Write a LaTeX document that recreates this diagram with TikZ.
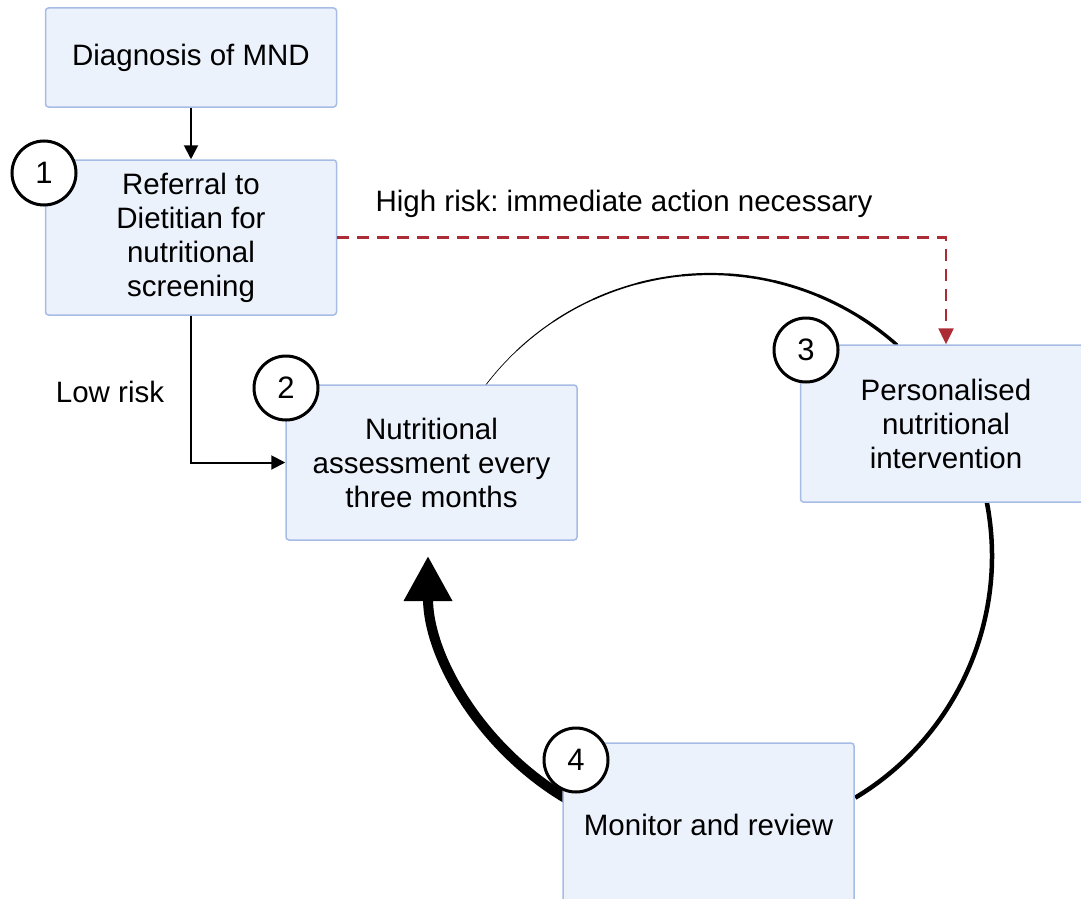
\documentclass[tikz,border=0pt]{standalone}
\usepackage{fontspec}
\setmainfont{Liberation Sans}
\frenchspacing
\usetikzlibrary{arrows.meta}
\definecolor{boxfill}{RGB}{236,242,252}
\definecolor{boxline}{RGB}{166,188,228}
\definecolor{riskred}{RGB}{172,44,54}
\tikzset{
	stepbox/.style={draw=boxline, fill=boxfill, line width=1.5pt, rounded corners=3pt, minimum width=291pt, minimum height=155pt, align=center, font=\fontsize{29.5}{34}\selectfont},
	numcirc/.style={circle, draw=black, fill=white, line width=3pt, minimum size=64pt, inner sep=0pt, font=\fontsize{31}{34}\selectfont},
	arr/.style={line width=2pt, -{Triangle[length=14pt,width=14pt]}},
	riskarr/.style={draw=riskred, line width=2.5pt, dash pattern=on 12pt off 8pt, -{Triangle[length=16pt,width=15pt]}},
	lbl/.style={font=\fontsize{29.5}{34}\selectfont}
}
\begin{document}
\begin{tikzpicture}[x=1pt, y=1pt]
	\useasboundingbox (0,0) rectangle (1081,-899);
	\clip (0,0) rectangle (1081,-899);
	% Kreislauf
	\coordinate (loop) at (710,-556);
	\foreach \i in {0,...,9}
	{
		\pgfmathsetmacro{\a}{142.6-\i*9.41}
		\pgfmathsetmacro{\w}{0.7+\i*0.3}
		\draw[line width=\w pt, line cap=round] (loop) ++(\a:282) arc[start angle=\a, delta angle=-9.41, radius=282];
	}
	\draw[line width=4.5pt] (loop) ++(11:282) arc[start angle=11, end angle=-59, radius=282];
	\draw[line width=10pt, -{Triangle[length=45pt,width=46pt]}] (loop) ++(240:282) arc[start angle=240, end angle=180, radius=282];

	% Kaesten
	\node[stepbox, minimum height=99pt] (diag) at (191,-57.5) {Diagnosis of MND};
	\node[stepbox] (refer) at (191,-237.5) {Referral to\\Dietitian for\\nutritional\\screening};
	\node[stepbox] (assess) at (431.5,-462.5) {Nutritional\\assessment every\\three months};
	\node[stepbox, minimum height=157pt] (person) at (946,-423.5) {Personalised\\nutritional\\intervention};
	\node[stepbox, minimum height=170pt] (monitor) at (708.5,-828) {\raisebox{7pt}{Monitor and review}};

	% Nummern
	\node[numcirc] (one) at (44,-173) {1};
	\node[numcirc] (two) at (286,-388) {2};
	\node[numcirc] (three) at (806,-350) {3};
	\node[numcirc] (four) at (576,-760) {4};

	% Pfeile
	\draw[arr] (diag) -- (refer);
	\draw[arr] (refer.south) |- (assess.west);
	\draw[riskarr] (refer.east) -| (person.north);
	\node[lbl] (low) at (110,-392) {Low risk};
	\node[lbl] (high) at (624,-204) {High risk: immediate action necessary};
\end{tikzpicture}
\end{document}
